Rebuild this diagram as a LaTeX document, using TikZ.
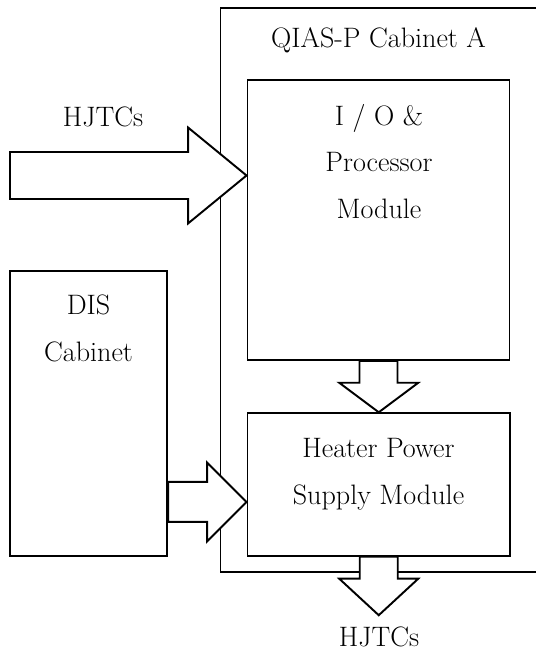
\documentclass[tikz,border=0pt]{standalone}
\usetikzlibrary{calc,positioning}

\begin{document}
\begin{tikzpicture}[
    block/.style={
      rectangle,
      draw=black,
      line width=1.1pt,
      inner sep=0pt
    },
    fat/.style={
      draw=black,
      fill=white,
      line width=1.1pt,
      line join=miter
    },
    label/.style={
      align=center,
      font={\fontsize{16}{26.6}\selectfont}
    }]

    \useasboundingbox (0,0) rectangle (10.7,13.02);

    % cabinet box
    \draw (7.955,7.22) node[
    block,
    minimum width=7.09cm,
    minimum height=11.28cm] (CA) {};
    \node[label] (CAtext) at (7.57,12.22) {QIAS-P Cabinet A};

    % i/o module
    \draw (7.57,8.62) node[
    block,
    minimum width=5.24cm,
    minimum height=5.6cm] (IO) {};
    \node[label] (IOtext) at (7.58,9.79) {I / O \&\\Processor\\Module};

    % heater power supply
    \draw (7.575,3.33) node[
    block,
    minimum width=5.25cm,
    minimum height=2.85cm] (HPS) {};
    \node[label] (HPStext) at (7.57,3.53) {Heater Power\\Supply Module};

    % dis cabinet
    \draw (1.773,4.753) node[
    block,
    minimum width=3.146cm,
    minimum height=5.706cm] (DIS) {};
    \node[label] (DIStext) at (1.77,6.45) {DIS\\Cabinet};

    % arrow ends
    \coordinate (hjtc) at (0.2,9.51);
    \coordinate (t1) at (hjtc -| IO.west);
    \coordinate (d1) at ($(DIS.south east)+(0,1.1)$);
    \coordinate (t2) at (d1 -| HPS.west);
    \coordinate (out) at ($(HPS.south)+(0,-1.17)$);

    % arrows
    \draw[fat] ($(hjtc)+(0,0.47)$) -| ($(t1)+(-1.17,0.96)$) -- (t1)
      -- ++(-1.17,-0.96) |- ($(hjtc)+(0,-0.47)$) -- cycle;
    \node[label] (inText) at (2.06,10.69) {HJTCs};

    \draw[fat] ($(d1)+(0,0.4)$) -| ($(t2)+(-0.79,0.79)$) -- (t2)
      -- ++(-0.79,-0.79) |- ($(d1)+(0,-0.4)$) -- cycle;

    \draw[fat] ($(IO.south)+(-0.38,0)$) |- ($(HPS.north)+(-0.79,0.59)$) -- (HPS.north)
      -- ++(0.79,0.59) -| ($(IO.south)+(0.38,0)$) -- cycle;

    \draw[fat] ($(HPS.south)+(-0.38,0)$) |- ($(out)+(-0.79,0.73)$) -- (out)
      -- ++(0.79,0.73) -| ($(HPS.south)+(0.38,0)$) -- cycle;
    \node[label] (outText) at (7.58,0.29) {HJTCs};
  \end{tikzpicture}
\end{document}
